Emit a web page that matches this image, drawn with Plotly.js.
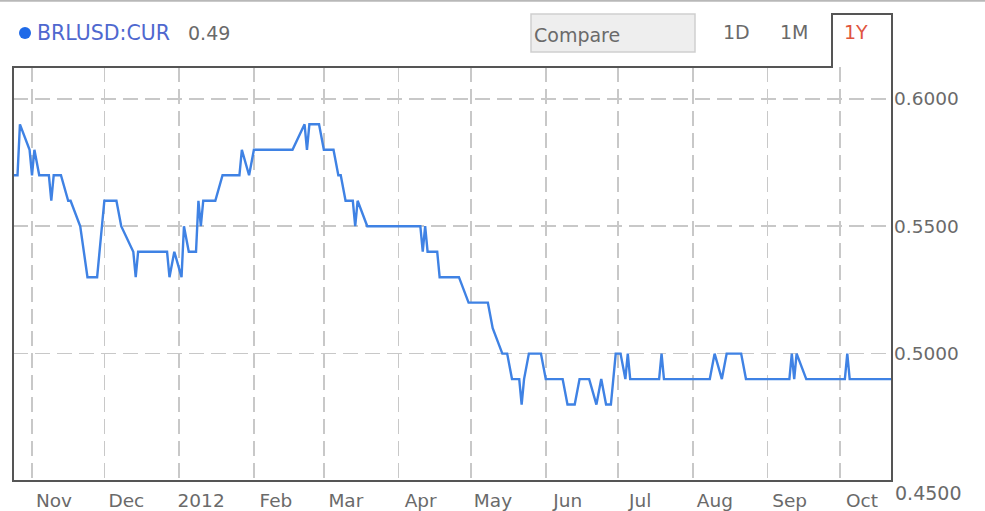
<!DOCTYPE html>
<html>
<head>
<meta charset="utf-8">
<script src="https://cdn.plot.ly/plotly-3.0.1.min.js"></script>
<style>
html,body{margin:0;padding:0;background:#fff;}
#chart{width:985px;height:511px;}
</style>
</head>
<body>
<div id="chart"></div>
<script>
// ---- data ----
const dates = ['2011-10-24','2011-10-26','2011-10-27','2011-10-31','2011-11-01','2011-11-02','2011-11-04','2011-11-08','2011-11-09','2011-11-10',
'2011-11-13','2011-11-16','2011-11-17','2011-11-21','2011-11-24','2011-11-28','2011-12-01','2011-12-06','2011-12-08','2011-12-13',
'2011-12-14','2011-12-15','2011-12-27','2011-12-28','2011-12-30','2012-01-02','2012-01-03','2012-01-05','2012-01-08','2012-01-09',
'2012-01-10','2012-01-11','2012-01-16','2012-01-19','2012-01-26','2012-01-27','2012-01-30','2012-02-01','2012-02-17','2012-02-22',
'2012-02-23','2012-02-24','2012-02-28','2012-03-01','2012-03-05','2012-03-07','2012-03-08','2012-03-10','2012-03-13','2012-03-14',
'2012-03-15','2012-03-19','2012-04-10','2012-04-11','2012-04-12','2012-04-13','2012-04-17','2012-04-18','2012-04-26','2012-04-30',
'2012-05-08','2012-05-10','2012-05-14','2012-05-16','2012-05-18','2012-05-21','2012-05-22','2012-05-23','2012-05-25','2012-05-30',
'2012-06-01','2012-06-08','2012-06-10','2012-06-13','2012-06-15','2012-06-19','2012-06-22','2012-06-24','2012-06-26','2012-06-28',
'2012-06-30','2012-07-02','2012-07-04','2012-07-05','2012-07-06','2012-07-18','2012-07-19','2012-07-20','2012-08-08','2012-08-10',
'2012-08-13','2012-08-15','2012-08-21','2012-08-23','2012-09-10','2012-09-11','2012-09-12','2012-09-13','2012-09-17','2012-10-03',
'2012-10-04','2012-10-05','2012-10-23'];
const rates = [0.57,0.57,0.59,0.58,0.57,0.58,0.57,0.57,0.56,0.57,
0.57,0.56,0.56,0.55,0.53,0.53,0.56,0.56,0.55,0.54,
0.53,0.54,0.54,0.53,0.54,0.53,0.55,0.54,0.54,0.56,
0.55,0.56,0.56,0.57,0.57,0.58,0.57,0.58,0.58,0.59,
0.58,0.59,0.59,0.58,0.58,0.57,0.57,0.56,0.56,0.55,
0.56,0.55,0.55,0.54,0.55,0.54,0.54,0.53,0.53,0.52,
0.52,0.51,0.50,0.50,0.49,0.49,0.48,0.49,0.50,0.50,
0.49,0.49,0.48,0.48,0.49,0.49,0.48,0.49,0.48,0.48,
0.50,0.50,0.49,0.50,0.49,0.49,0.50,0.49,0.49,0.50,
0.49,0.50,0.50,0.49,0.49,0.50,0.49,0.50,0.49,0.49,
0.50,0.49,0.49];
const monthTicks = ['2011-11-01','2011-12-01','2012-01-01','2012-02-01','2012-03-01','2012-04-01','2012-05-01','2012-06-01','2012-07-01','2012-08-01','2012-09-01','2012-10-01'];
const monthLabels = ['Nov','Dec','2012','Feb','Mar','Apr','May','Jun','Jul','Aug','Sep','Oct'];
const yTicks = [0.50, 0.55, 0.60];
const yTickLabels = ['0.5000','0.5500','0.6000'];
const bottomLabel = '0.4500';
const seriesName = 'BRLUSD:CUR';
const lastValue = '0.49';
const buttons = ['1D','1M','1Y'];

// ---- layout geometry (pixels) ----
const W = 985, H = 511;
const L = 13, R = 892, T = 67, B = 481;
const px = x => (x - L) / (R - L);
const py = y => (B - y) / (B - T);
const FONT = 'DejaVu Sans, Verdana, sans-serif';
const GRAY = '#6a6a6a';

const trace = {
  x: dates, y: rates, type: 'scatter', mode: 'lines',
  line: {color: '#3f82e4', width: 2.4},
  hoverinfo: 'skip', showlegend: false
};

const tabTop = py(14), tabLeft = px(832);
const shapes = [
  // faint top border of the page
  {type:'line', xref:'paper', yref:'paper', x0:px(0), x1:px(W), y0:py(0.8), y1:py(0.8), line:{color:'#b8b8b8', width:2}},
  // compare box
  {type:'rect', xref:'paper', yref:'paper', x0:px(531), x1:px(695), y0:py(52), y1:py(14), fillcolor:'#eeeeee', line:{color:'#cfcfcf', width:1.5}},
  // legend dot
  {type:'circle', xref:'paper', yref:'paper', x0:px(19), x1:px(31), y0:py(39), y1:py(27), fillcolor:'#1f6ae8', line:{width:0}},
  // tabbed frame
  {type:'path', xref:'paper', yref:'paper',
   path:`M 0,1 L ${tabLeft},1 L ${tabLeft},${tabTop} L 1,${tabTop} L 1,0 L 0,0 Z`,
   line:{color:'#555555', width:2}, fillcolor:'rgba(0,0,0,0)'}
];

const ann = (text, x, y, opts={}) => Object.assign({
  text, xref:'paper', yref:'paper', x:px(x), y:py(y), xanchor:'left', yanchor:'middle',
  showarrow:false, font:{family:FONT, size:19, color:GRAY}
}, opts);

const annotations = [
  ann(seriesName, 35, 33, {font:{family:FONT, size:20.5, color:'#4f68cf'}}),
  ann(lastValue, 186, 33),
  ann('Compare', 532, 35),
  ann(buttons[0], 736, 31.5, {xanchor:'center'}),
  ann(buttons[1], 794, 31.5, {xanchor:'center'}),
  ann(buttons[2], 856, 31.5, {xanchor:'center', font:{family:FONT, size:19, color:'#e0553f'}}),
  ann(bottomLabel, 893, 493)
];

const layout = {
  width: W, height: H,
  margin: {l: L, r: W - R, t: T, b: H - B},
  paper_bgcolor: '#ffffff', plot_bgcolor: '#ffffff',
  font: {family: FONT, size: 19, color: GRAY},
  showlegend: false,
  xaxis: {
    type: 'date',
    range: ['2011-10-24 03:00', '2012-10-22 13:00'],
    tickmode: 'array', tickvals: monthTicks, ticktext: monthLabels,
    ticks: '', showline: false, zeroline: false,
    showgrid: true, gridcolor: '#c8c8c8', gridwidth: 1.5, griddash: '15px,7px',
    ticklabelshift: 22, ticklabelstandoff: 6,
    tickfont: {family: FONT, size: 18.5, color: GRAY},
    fixedrange: true
  },
  yaxis: {
    side: 'right',
    range: [0.45, 0.6125],
    tickmode: 'array', tickvals: yTicks, ticktext: yTickLabels,
    ticks: '', showline: false, zeroline: false,
    showgrid: true, gridcolor: '#c8c8c8', gridwidth: 1.5, griddash: '15px,7px',
    tickfont: {family: FONT, size: 18.5, color: GRAY},
    ticklabelstandoff: 1,
    fixedrange: true
  },
  shapes, annotations
};

Plotly.newPlot('chart', [trace], layout, {displayModeBar: false, staticPlot: true});
</script>
</body>
</html>
